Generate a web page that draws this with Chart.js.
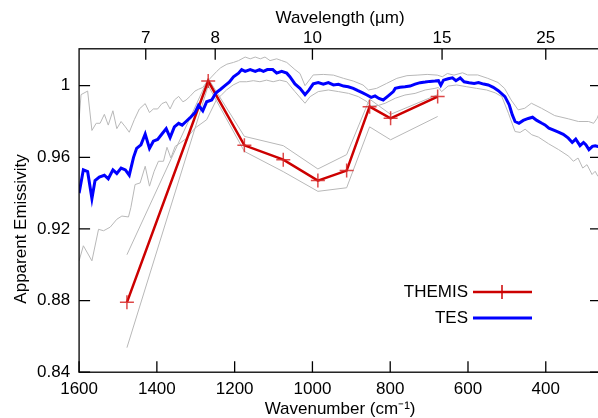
<!DOCTYPE html>
<html>
<head>
<meta charset="utf-8">
<script src="https://cdn.jsdelivr.net/npm/chart.js@4.4.1/dist/chart.umd.min.js"></script>
<style>
  html, body { margin: 0; padding: 0; background: #fff; overflow: hidden; }
  #wrap { width: 612px; height: 418px; }
</style>
</head>
<body>
<div id="wrap"><canvas id="chart" width="612" height="418"></canvas></div>
<script>
// tick values
const wavenumberTicks = [1600, 1400, 1200, 1000, 800, 600, 400];
const wavelengthTicks = [7, 8, 10, 15, 25];
const emissivityTicks = [0.84, 0.88, 0.92, 0.96, 1.0];

// THEMIS bands
const themisWavenumber = [1477, 1268, 1175, 1075, 986, 912, 853, 799, 678];
const themisEmissivity = [0.879, 1.0026, 0.9667, 0.9587, 0.947, 0.9526, 0.9883, 0.9818, 0.9939];
const themisUpper = [0.9056, 1.004, 0.9717, 0.9665, 0.9535, 0.9615, 0.9925, 0.984, 0.995];
const themisLower = [0.8537, 1.000, 0.9633, 0.952, 0.941, 0.943, 0.977, 0.9698, 0.9828];

// TES spectrum
const tesWavenumber = [1600, 1589, 1578, 1567, 1559, 1548, 1535, 1525, 1513, 1503, 1492, 1481, 1471, 1460, 1452,
  1441, 1430, 1419, 1409, 1398, 1387, 1376, 1366, 1355, 1344, 1335, 1325, 1315, 1302, 1293, 1282, 1272, 1259,
  1248, 1236, 1225, 1214, 1203, 1190, 1182, 1173, 1160, 1147, 1136, 1126, 1116, 1102, 1092, 1079, 1066, 1058,
  1045, 1032, 1019, 1009, 998, 985, 972, 959, 946, 933, 920, 908, 895, 883, 872, 860, 849, 839, 829, 818, 805,
  792, 787, 775, 762, 749, 736, 723, 710, 698, 685, 676, 670, 663, 651, 640, 631, 620, 610, 597, 584, 573, 560,
  548, 535, 522, 505, 494, 486, 479, 469, 458, 445, 434, 423, 410, 402, 392, 378, 366, 355, 342, 332, 323, 312,
  303, 297, 289, 280, 273, 266, 258];
const tesEmissivity = [0.940, 0.953, 0.952, 0.937, 0.947, 0.949, 0.950, 0.948, 0.953, 0.951, 0.954, 0.953, 0.950, 0.960, 0.965,
  0.967, 0.973, 0.965, 0.969, 0.970, 0.973, 0.976, 0.971, 0.977, 0.979, 0.978, 0.980, 0.982, 0.985, 0.989, 0.986, 0.991, 0.992,
  0.996, 0.998, 1.000, 1.002, 1.005, 1.007, 1.009, 1.008, 1.009, 1.008, 1.009, 1.008, 1.009, 1.009, 1.007, 1.008, 1.007, 1.005,
  1.001, 0.9985, 0.995, 0.9975, 1.001, 1.0017, 1.0008, 1.0017, 1.0004, 1.0008, 0.9998, 0.9994, 0.9985, 0.9972, 0.9961, 0.9948, 0.9935, 0.9943, 0.9929, 0.992, 0.9943,
  0.9967, 0.9985, 0.9991, 0.9994, 0.9998, 1.0009, 1.0017, 1.002, 1.0024, 1.0026, 1.0028, 1.0002, 1.0031, 1.0039, 1.0044, 1.0028, 1.0043, 1.0022, 1.0017, 1.0013, 1.0017, 1.0009,
  1.0004, 0.9991, 0.9972, 0.9939, 0.9893, 0.9837, 0.980, 0.979, 0.9806, 0.9817, 0.9824, 0.9806, 0.979, 0.9781, 0.9763, 0.975, 0.9739, 0.9728, 0.9707, 0.9683, 0.9702, 0.9665,
  0.9683, 0.967, 0.9643, 0.9661, 0.9665, 0.9661, 0.966];

// TES envelope, upper
const tesUpperWavenumber = [1600, 1595, 1578, 1567, 1556, 1546, 1535, 1525, 1513, 1503, 1492, 1481, 1471, 1458, 1445,
  1430, 1419, 1409, 1398, 1387, 1376, 1366, 1355, 1344, 1333, 1325, 1315, 1302, 1293, 1282, 1272, 1246, 1236,
  1220, 1203, 1190, 1173, 1160, 1147, 1134, 1122, 1109, 1092, 1079, 1066, 1045, 1032, 1019, 998, 972, 946, 920,
  895, 870, 856, 835, 809, 783, 757, 731, 705, 679, 666, 653, 636, 614, 601, 575, 549, 523, 506, 489, 471, 454,
  437, 411, 377, 342, 316, 290, 277, 268, 261];
const tesUpper = [0.981, 0.995, 0.997, 0.975, 0.979, 0.979, 0.984, 0.978, 0.986, 0.976, 0.980, 0.977, 0.974, 0.981, 0.987,
  0.990, 0.985, 0.987, 0.987, 0.990, 0.991, 0.987, 0.992, 0.994, 0.991, 0.992, 0.994, 0.997, 0.998, 0.999, 1.002, 1.008, 1.010,
  1.012, 1.013, 1.014, 1.016, 1.015, 1.016, 1.015, 1.016, 1.014, 1.015, 1.014, 1.013, 1.009, 1.0068, 1.000, 1.006, 1.0063, 1.0059, 1.0041,
  1.0026, 1.0004, 0.9976, 0.9985, 1.0013, 1.0041, 1.0056, 1.0059, 1.0063, 1.0059, 1.005, 1.0068, 1.0059, 1.0072, 1.006, 1.006, 1.0041, 1.0018, 0.9985, 0.992, 0.9865, 0.9874,
  0.9902, 0.9874, 0.9833, 0.9815, 0.980, 0.980, 0.979, 0.9818, 0.9856];

// TES envelope, lower
const tesLowerWavenumber = [1600, 1589, 1567, 1550, 1537, 1520, 1503, 1490, 1473, 1467, 1456, 1443, 1430, 1419, 1407,
  1396, 1383, 1374, 1364, 1353, 1340, 1323, 1302, 1272, 1247, 1234, 1221, 1204, 1187, 1169, 1152, 1135, 1118,
  1101, 1084, 1066, 1045, 1019, 1006, 985, 959, 933, 907, 882, 860, 849, 830, 813, 787, 762, 736, 710, 685, 676,
  668, 651, 629, 603, 578, 552, 530, 513, 496, 479, 466, 453, 436, 419, 393, 367, 341, 329, 317, 305, 294, 281,
  273, 266, 258];
const tesLower = [0.9022, 0.9106, 0.9022, 0.9198, 0.919, 0.921, 0.9254, 0.9272, 0.9267, 0.9318, 0.9448, 0.9457, 0.955, 0.9439, 0.9522,
  0.9578, 0.9578, 0.9656, 0.9596, 0.9661, 0.968, 0.9707, 0.9763, 0.981, 0.992, 0.9948, 0.9976, 1.0004, 1.0022, 1.0022, 1.0028, 1.0022, 1.0031,
  1.0022, 1.0031, 1.0022, 0.9967, 0.9902, 0.9939, 0.9967, 0.9976, 0.9967, 0.9957, 0.9939, 0.9911, 0.9887, 0.989, 0.9902, 0.993, 0.9948, 0.9957, 0.9976, 0.9985, 0.999,
  0.9967, 0.9998, 1.0004, 0.9994, 0.9985, 0.9976, 0.996, 0.9939, 0.9846, 0.9744, 0.9739, 0.9757, 0.9726, 0.9713, 0.9676, 0.9643, 0.9606, 0.9578, 0.9596, 0.954, 0.9559, 0.9504,
  0.9522, 0.9494, 0.948];

const FONT = "'Liberation Sans', Arial, Helvetica, sans-serif";
const GRAY = "#b8b8b8";
const RED = "#cc0000";
const BLUE = "#0000ff";

const pts = (xs, ys) => xs.map((x, i) => ({ x: x, y: ys[i] }));

// frame + inward ticks, y title, legend
const framePlugin = {
  id: "frame",
  afterDraw(chart) {
    const ctx = chart.ctx;
    const a = chart.chartArea;
    const sx = chart.scales.x, sy = chart.scales.y;
    ctx.save();
    ctx.strokeStyle = "#000";
    ctx.lineWidth = 1.3;
    ctx.strokeRect(a.left, a.top, a.right - a.left, a.bottom - a.top);
    ctx.beginPath();
    wavenumberTicks.forEach(v => {
      const p = sx.getPixelForValue(v);
      ctx.moveTo(p, a.bottom); ctx.lineTo(p, a.bottom - 11);
    });
    wavelengthTicks.forEach(l => {
      const p = sx.getPixelForValue(10000 / l);
      ctx.moveTo(p, a.top); ctx.lineTo(p, a.top + 11);
    });
    emissivityTicks.forEach(v => {
      const p = sy.getPixelForValue(v);
      ctx.moveTo(a.left, p); ctx.lineTo(a.left + 11, p);
      ctx.moveTo(a.right, p); ctx.lineTo(a.right - 11, p);
    });
    ctx.stroke();

    ctx.fillStyle = "#000";
    ctx.font = "17px " + FONT;
    ctx.textBaseline = "middle";
    ctx.save();
    ctx.translate(21, 229);
    ctx.rotate(-Math.PI / 2);
    ctx.textAlign = "center";
    ctx.fillText("Apparent Emissivity", 0, 0);
    ctx.restore();

    // legend
    ctx.textAlign = "right";
    ctx.fillText("THEMIS", 468, 292);
    ctx.fillText("TES", 468, 318);
    ctx.lineWidth = 2.5;
    ctx.strokeStyle = RED;
    ctx.beginPath();
    ctx.moveTo(473, 292); ctx.lineTo(532, 292);
    ctx.stroke();
    ctx.lineWidth = 1.5;
    ctx.beginPath();
    ctx.moveTo(502, 285); ctx.lineTo(502, 299);
    ctx.stroke();
    ctx.lineWidth = 3;
    ctx.strokeStyle = BLUE;
    ctx.beginPath();
    ctx.moveTo(473, 318); ctx.lineTo(532, 318);
    ctx.stroke();
    ctx.restore();
  }
};

const grayLine = data => ({
  data: data, borderColor: GRAY, borderWidth: 1, pointRadius: 0, order: 3, fill: false, tension: 0
});

const tickFont = { family: FONT, size: 17 };

new Chart(document.getElementById("chart"), {
  type: "line",
  data: {
    datasets: [
      {
        label: "TES",
        data: pts(tesWavenumber, tesEmissivity),
        borderColor: BLUE, borderWidth: 3, pointRadius: 0, order: 0
      },
      {
        label: "THEMIS",
        data: pts(themisWavenumber, themisEmissivity),
        borderColor: RED, borderWidth: 2.5, order: 1,
        pointStyle: "cross", pointRadius: 7, pointBorderWidth: 1.5,
        pointBorderColor: "rgba(215,40,40,0.85)"
      },
      grayLine(pts(themisWavenumber, themisUpper)),
      grayLine(pts(themisWavenumber, themisLower)),
      grayLine(pts(tesUpperWavenumber, tesUpper)),
      grayLine(pts(tesLowerWavenumber, tesLower))
    ]
  },
  options: {
    responsive: false,
    animation: false,
    devicePixelRatio: 1,
    layout: { padding: { left: 28, right: 11, top: 8, bottom: 0 } },
    plugins: { legend: { display: false }, tooltip: { enabled: false } },
    scales: {
      x: {
        type: "linear", position: "bottom", min: 258, max: 1600, reverse: true,
        afterBuildTicks: s => { s.ticks = wavenumberTicks.map(v => ({ value: v })); },
        grid: { display: false, drawTicks: false }, border: { display: false },
        ticks: { color: "#000", font: tickFont, padding: 7, maxRotation: 0, autoSkip: false,
          callback: v => String(v) },
        title: { display: true, text: "Wavenumber (cm⁻¹)", color: "#000", font: tickFont,
          padding: { top: -7, bottom: -2 } }
      },
      x2: {
        type: "linear", position: "top", min: 258, max: 1600, reverse: true,
        afterBuildTicks: s => { s.ticks = wavelengthTicks.map(l => ({ value: 10000 / l })); },
        grid: { display: false, drawTicks: false }, border: { display: false },
        ticks: { color: "#000", font: tickFont, padding: 0, maxRotation: 0, autoSkip: false,
          callback: v => String(Math.round(10000 / v)) },
        title: { display: true, text: "Wavelength (µm)", color: "#000", font: tickFont,
          padding: { top: 0, bottom: 0 } }
      },
      y: {
        type: "linear", position: "left", min: 0.84, max: 1.0206,
        afterBuildTicks: s => { s.ticks = emissivityTicks.map(v => ({ value: v })); },
        grid: { display: false, drawTicks: false }, border: { display: false },
        ticks: { color: "#000", font: tickFont, padding: 9,
          callback: v => (v === 1 ? "1" : v.toFixed(2)) }
      }
    }
  },
  plugins: [framePlugin]
});
</script>
</body>
</html>
